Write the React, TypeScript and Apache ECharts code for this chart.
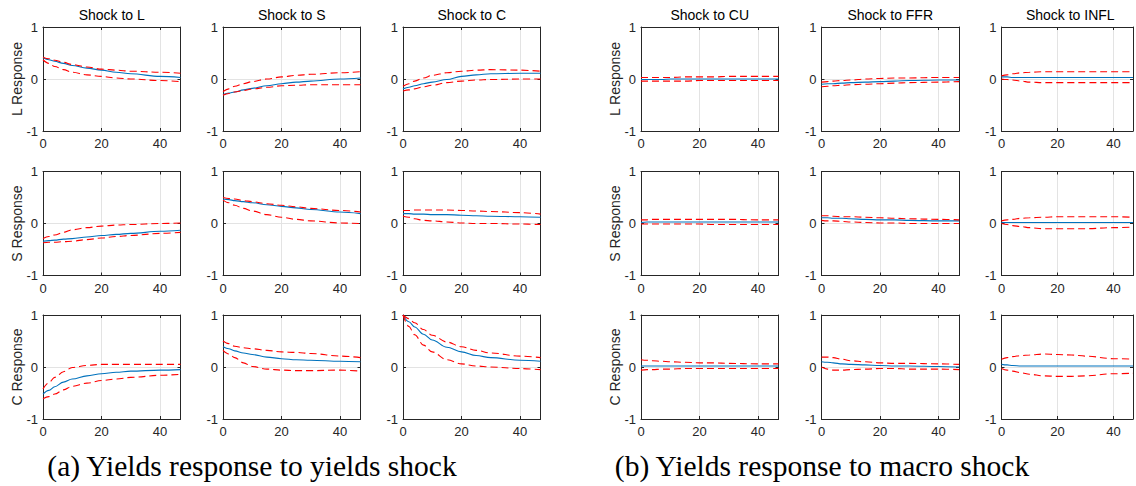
import React, { useEffect, useRef } from "react";
import * as echarts from "echarts";

// Horizons (months) at which the impulse responses are read
const HORIZONS = [0, 2, 4, 7, 10, 15, 20, 25, 30, 40, 47];
const RESPONSES = ["L", "S", "C"];
const YIELD_SHOCKS = ["L", "S", "C"];
const MACRO_SHOCKS = ["CU", "FFR", "INFL"];
const X_TICKS = [0, 20, 40];
const Y_TICKS = [-1, 0, 1];
const CAPTIONS = ["(a) Yields response to yields shock", "(b) Yields response to macro shock"];

// ---- (a) yields response to yields shock ----
const L_L_MID = [0.41, 0.37, 0.34, 0.3, 0.26, 0.21, 0.17, 0.13, 0.1, 0.05, 0.03];
const L_L_UP = [0.42, 0.39, 0.36, 0.32, 0.28, 0.23, 0.19, 0.17, 0.15, 0.13, 0.11];
const L_L_LO = [0.37, 0.3, 0.24, 0.18, 0.13, 0.08, 0.05, 0.02, 0.0, -0.03, -0.05];

const L_S_MID = [-0.3, -0.27, -0.25, -0.21, -0.18, -0.13, -0.09, -0.06, -0.04, 0.0, 0.02];
const L_S_UP = [-0.24, -0.19, -0.14, -0.09, -0.05, 0.0, 0.04, 0.07, 0.09, 0.12, 0.14];
const L_S_LO = [-0.31, -0.28, -0.25, -0.22, -0.19, -0.16, -0.13, -0.12, -0.11, -0.11, -0.11];

const L_C_MID = [-0.19, -0.16, -0.13, -0.09, -0.06, -0.01, 0.05, 0.08, 0.1, 0.11, 0.11];
const L_C_UP = [-0.14, -0.09, -0.04, 0.02, 0.07, 0.12, 0.15, 0.17, 0.18, 0.17, 0.15];
const L_C_LO = [-0.23, -0.21, -0.19, -0.15, -0.12, -0.07, -0.04, -0.02, -0.01, 0.0, 0.0];

const S_L_MID = [-0.34, -0.33, -0.32, -0.3, -0.29, -0.26, -0.23, -0.21, -0.19, -0.15, -0.13];
const S_L_UP = [-0.29, -0.25, -0.22, -0.17, -0.12, -0.08, -0.05, -0.03, -0.02, 0.0, 0.01];
const S_L_LO = [-0.37, -0.36, -0.36, -0.35, -0.34, -0.31, -0.28, -0.25, -0.23, -0.19, -0.17];

const S_S_MID = [0.47, 0.46, 0.44, 0.42, 0.4, 0.36, 0.33, 0.3, 0.27, 0.22, 0.19];
const S_S_UP = [0.5, 0.48, 0.47, 0.44, 0.42, 0.38, 0.35, 0.32, 0.29, 0.25, 0.22];
const S_S_LO = [0.45, 0.4, 0.35, 0.29, 0.24, 0.17, 0.12, 0.08, 0.05, 0.01, 0.0];

const S_C_MID = [0.19, 0.19, 0.18, 0.18, 0.17, 0.17, 0.16, 0.15, 0.14, 0.13, 0.12];
const S_C_UP = [0.25, 0.25, 0.26, 0.26, 0.26, 0.26, 0.25, 0.24, 0.23, 0.21, 0.18];
const S_C_LO = [0.14, 0.12, 0.09, 0.06, 0.05, 0.03, 0.01, 0.0, 0.0, -0.01, -0.02];

const C_L_MID = [-0.52, -0.45, -0.38, -0.29, -0.23, -0.17, -0.13, -0.1, -0.08, -0.06, -0.05];
const C_L_UP = [-0.42, -0.3, -0.2, -0.09, -0.01, 0.03, 0.05, 0.05, 0.05, 0.05, 0.05];
const C_L_LO = [-0.61, -0.57, -0.52, -0.44, -0.37, -0.31, -0.26, -0.23, -0.2, -0.16, -0.14];

const C_S_MID = [0.39, 0.35, 0.31, 0.27, 0.24, 0.19, 0.16, 0.14, 0.13, 0.11, 0.1];
const C_S_UP = [0.5, 0.45, 0.4, 0.37, 0.35, 0.32, 0.29, 0.28, 0.26, 0.21, 0.18];
const C_S_LO = [0.32, 0.25, 0.18, 0.08, 0.01, -0.04, -0.06, -0.07, -0.07, -0.06, -0.08];

const C_C_MID = [1.0, 0.87, 0.77, 0.63, 0.52, 0.38, 0.29, 0.22, 0.18, 0.13, 0.11];
const C_C_UP = [1.0, 0.93, 0.85, 0.72, 0.61, 0.48, 0.39, 0.32, 0.27, 0.21, 0.18];
const C_C_LO = [1.0, 0.78, 0.62, 0.42, 0.29, 0.14, 0.06, 0.02, 0.0, -0.03, -0.05];

// ---- (b) yields response to macro shock ----
const L_CU_MID = [-0.01, -0.01, -0.01, -0.01, 0.0, 0.0, 0.0, 0.0, 0.0, 0.0, 0.0];
const L_CU_UP = [0.03, 0.03, 0.03, 0.03, 0.03, 0.04, 0.04, 0.04, 0.05, 0.05, 0.05];
const L_CU_LO = [-0.04, -0.04, -0.04, -0.04, -0.04, -0.04, -0.03, -0.03, -0.03, -0.03, -0.03];

const L_FFR_MID = [-0.1, -0.09, -0.09, -0.08, -0.07, -0.06, -0.05, -0.04, -0.03, -0.02, -0.02];
const L_FFR_UP = [-0.06, -0.05, -0.04, -0.03, -0.02, 0.0, 0.01, 0.02, 0.02, 0.03, 0.03];
const L_FFR_LO = [-0.15, -0.14, -0.13, -0.12, -0.11, -0.1, -0.09, -0.08, -0.07, -0.06, -0.05];

const L_INFL_MID = [0.04, 0.04, 0.03, 0.03, 0.03, 0.03, 0.03, 0.03, 0.03, 0.03, 0.03];
const L_INFL_UP = [0.06, 0.08, 0.1, 0.12, 0.13, 0.14, 0.14, 0.14, 0.14, 0.14, 0.14];
const L_INFL_LO = [0.0, -0.01, -0.02, -0.04, -0.06, -0.07, -0.07, -0.07, -0.07, -0.07, -0.07];

const S_CU_MID = [0.02, 0.03, 0.03, 0.03, 0.03, 0.03, 0.03, 0.03, 0.03, 0.03, 0.03];
const S_CU_UP = [0.07, 0.07, 0.08, 0.08, 0.08, 0.08, 0.08, 0.08, 0.08, 0.07, 0.07];
const S_CU_LO = [-0.01, -0.01, -0.01, -0.01, -0.01, -0.01, -0.01, -0.02, -0.02, -0.02, -0.02];

const S_FFR_MID = [0.11, 0.11, 0.1, 0.1, 0.09, 0.08, 0.07, 0.07, 0.06, 0.05, 0.05];
const S_FFR_UP = [0.15, 0.15, 0.14, 0.13, 0.13, 0.12, 0.11, 0.1, 0.09, 0.08, 0.07];
const S_FFR_LO = [0.06, 0.05, 0.05, 0.04, 0.03, 0.02, 0.01, 0.01, 0.0, 0.0, 0.0];

const S_INFL_MID = [0.02, 0.02, 0.02, 0.02, 0.02, 0.02, 0.02, 0.02, 0.02, 0.02, 0.02];
const S_INFL_UP = [0.05, 0.07, 0.08, 0.1, 0.11, 0.12, 0.13, 0.13, 0.13, 0.13, 0.12];
const S_INFL_LO = [0.0, -0.02, -0.04, -0.06, -0.08, -0.1, -0.1, -0.1, -0.1, -0.08, -0.07];

const C_CU_MID = [0.02, 0.02, 0.02, 0.02, 0.02, 0.02, 0.02, 0.02, 0.02, 0.02, 0.02];
const C_CU_UP = [0.14, 0.13, 0.12, 0.11, 0.1, 0.09, 0.08, 0.08, 0.07, 0.06, 0.06];
const C_CU_LO = [-0.06, -0.05, -0.05, -0.04, -0.04, -0.03, -0.03, -0.03, -0.03, -0.03, -0.03];

const C_FFR_MID = [0.1, 0.09, 0.08, 0.06, 0.05, 0.04, 0.03, 0.02, 0.02, 0.01, 0.0];
const C_FFR_UP = [0.19, 0.19, 0.18, 0.15, 0.12, 0.1, 0.08, 0.07, 0.07, 0.06, 0.05];
const C_FFR_LO = [0.0, -0.04, -0.06, -0.06, -0.05, -0.04, -0.03, -0.03, -0.04, -0.04, -0.05];

const C_INFL_MID = [0.05, 0.04, 0.03, 0.02, 0.02, 0.02, 0.02, 0.02, 0.02, 0.02, 0.02];
const C_INFL_UP = [0.15, 0.18, 0.2, 0.22, 0.23, 0.25, 0.24, 0.23, 0.21, 0.16, 0.15];
const C_INFL_LO = [-0.03, -0.06, -0.08, -0.11, -0.14, -0.17, -0.18, -0.18, -0.17, -0.13, -0.12];

// panel tables [row][col] = [mid, upper, lower]
const PANELS_A = [
  [[L_L_MID, L_L_UP, L_L_LO], [L_S_MID, L_S_UP, L_S_LO], [L_C_MID, L_C_UP, L_C_LO]],
  [[S_L_MID, S_L_UP, S_L_LO], [S_S_MID, S_S_UP, S_S_LO], [S_C_MID, S_C_UP, S_C_LO]],
  [[C_L_MID, C_L_UP, C_L_LO], [C_S_MID, C_S_UP, C_S_LO], [C_C_MID, C_C_UP, C_C_LO]],
];
const PANELS_B = [
  [[L_CU_MID, L_CU_UP, L_CU_LO], [L_FFR_MID, L_FFR_UP, L_FFR_LO], [L_INFL_MID, L_INFL_UP, L_INFL_LO]],
  [[S_CU_MID, S_CU_UP, S_CU_LO], [S_FFR_MID, S_FFR_UP, S_FFR_LO], [S_INFL_MID, S_INFL_UP, S_INFL_LO]],
  [[C_CU_MID, C_CU_UP, C_CU_LO], [C_FFR_MID, C_FFR_UP, C_FFR_LO], [C_INFL_MID, C_INFL_UP, C_INFL_LO]],
];

const W = 1136;
const H = 486;
const GROUP_LEFTS = [
  [43, 223, 403],
  [641, 821.5, 1001.5],
];
const ROW_TOPS = [27, 171.5, 315];
const BOX_W = 137.5;
const BOX_H = 104;
const YLABEL_X = [17, 615];
const CAPTION_X = [252, 822];

const SANS = '"Liberation Sans", Arial, Helvetica, sans-serif';
const AXIS_COLOR = "#262626";
const GRID_COLOR = "#e3e3e3";

function buildOption() {
  const grid: any[] = [];
  const xAxis: any[] = [];
  const yAxis: any[] = [];
  const series: any[] = [];
  const graphic: any[] = [];
  const groups = [
    { panels: PANELS_A, shocks: YIELD_SHOCKS },
    { panels: PANELS_B, shocks: MACRO_SHOCKS },
  ];
  groups.forEach((g, gi) => {
    for (let r = 0; r < 3; r++) {
      for (let c = 0; c < 3; c++) {
        const idx = grid.length;
        const left = GROUP_LEFTS[gi][c];
        const top = ROW_TOPS[r];
        grid.push({ left, top, width: BOX_W, height: BOX_H, containLabel: false });
        const tick = { show: true, inside: true, length: 3, lineStyle: { color: AXIS_COLOR, width: 1 } };
        const line = { show: true, lineStyle: { color: AXIS_COLOR, width: 1 } };
        xAxis.push({
          gridIndex: idx,
          type: "value",
          position: "bottom",
          min: 0,
          max: 47,
          interval: 20,
          axisLine: { ...line, onZero: false },
          axisTick: tick,
          axisLabel: {
            margin: 6,
            color: AXIS_COLOR,
            fontFamily: SANS,
            fontSize: 13,
            formatter: (v: number) => (X_TICKS.includes(v) ? String(v) : ""),
          },
          splitLine: { show: true, lineStyle: { color: GRID_COLOR, width: 1 } },
        });
        xAxis.push({
          gridIndex: idx,
          type: "value",
          position: "top",
          min: 0,
          max: 47,
          interval: 20,
          axisLine: { ...line, onZero: false },
          axisTick: tick,
          axisLabel: { show: false },
          splitLine: { show: false },
        });
        yAxis.push({
          gridIndex: idx,
          type: "value",
          position: "left",
          min: -1,
          max: 1,
          interval: 1,
          axisLine: { ...line, onZero: false },
          axisTick: tick,
          axisLabel: {
            margin: 5,
            color: AXIS_COLOR,
            fontFamily: SANS,
            fontSize: 13,
            formatter: (v: number) => (Y_TICKS.includes(v) ? String(v) : ""),
          },
          splitLine: { show: true, lineStyle: { color: GRID_COLOR, width: 1 } },
        });
        yAxis.push({
          gridIndex: idx,
          type: "value",
          position: "right",
          min: -1,
          max: 1,
          interval: 1,
          axisLine: { ...line, onZero: false },
          axisTick: tick,
          axisLabel: { show: false },
          splitLine: { show: false },
        });
        const [mid, up, lo] = g.panels[r][c];
        const toData = (arr: number[]) => HORIZONS.map((h, k) => [h, arr[k]]);
        const base = {
          type: "line",
          xAxisIndex: 2 * idx,
          yAxisIndex: 2 * idx,
          symbol: "none",
          silent: true,
          smooth: 0.35,
          smoothMonotone: "x",
        };
        series.push({ ...base, data: toData(mid), lineStyle: { color: "#0072BD", width: 1.1 }, z: 3 });
        series.push({ ...base, data: toData(up), lineStyle: { color: "#FF0000", width: 1.1, type: [7, 4] }, z: 4 });
        series.push({ ...base, data: toData(lo), lineStyle: { color: "#FF0000", width: 1.1, type: [7, 4] }, z: 4 });

        if (r === 0) {
          graphic.push({
            type: "text",
            x: left + BOX_W / 2,
            y: 15,
            style: {
              text: "Shock to " + g.shocks[c],
              fill: "#000",
              font: "14px " + SANS,
              textAlign: "center",
              textVerticalAlign: "middle",
            },
          });
        }
        if (c === 0) {
          graphic.push({
            type: "text",
            x: YLABEL_X[gi],
            y: top + BOX_H / 2,
            rotation: Math.PI / 2,
            style: {
              text: RESPONSES[r] + " Response",
              fill: AXIS_COLOR,
              font: "14px " + SANS,
              textAlign: "center",
              textVerticalAlign: "middle",
            },
          });
        }
      }
    }
    graphic.push({
      type: "text",
      x: CAPTION_X[gi],
      y: 466,
      style: {
        text: CAPTIONS[gi],
        fill: "#000",
        font: '29.5px "Liberation Serif", "Times New Roman", serif',
        textAlign: "center",
        textVerticalAlign: "middle",
      },
    });
  });
  return {
    animation: false,
    backgroundColor: "#ffffff",
    grid,
    xAxis,
    yAxis,
    series,
    graphic,
  };
}

export default function App() {
  const ref = useRef<HTMLDivElement>(null);
  useEffect(() => {
    if (!ref.current) return;
    const chart = echarts.init(ref.current, undefined, { renderer: "svg", width: W, height: H });
    chart.setOption(buildOption() as any);
    return () => chart.dispose();
  }, []);
  return (
    <div
      ref={ref}
      style={{ position: "absolute", left: 0, top: 0, width: W, height: H, background: "#fff" }}
    />
  );
}
